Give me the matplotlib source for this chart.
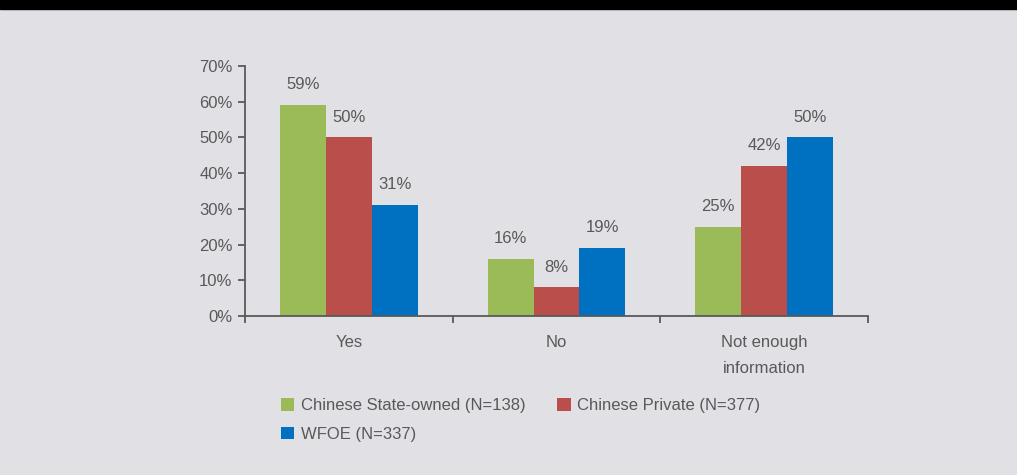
#!/usr/bin/env python3
"""Grouped bar chart: ownership type vs. answer."""

import numpy as np
import matplotlib
matplotlib.use('Agg')
import matplotlib.pyplot as plt
from matplotlib.patches import Rectangle
from matplotlib.ticker import FuncFormatter, FixedLocator

CATEGORIES = ['Yes', 'No', 'Not enough\ninformation']
STATE_OWNED = [59, 16, 25]
PRIVATE = [50, 8, 42]
WFOE = [31, 19, 50]
SERIES_NAMES = ['Chinese State-owned (N=138)', 'Chinese Private (N=377)',
                'WFOE (N=337)']
COLORS = ['#9BBB59', '#B94E4B', '#0070C0']

BG = '#E1E0E5'
TXT = '#595959'
plt.rcParams['font.family'] = ['Liberation Sans Narrow', 'Liberation Sans',
                               'DejaVu Sans']
plt.rcParams['font.size'] = 12

fig = plt.figure(figsize=(10.17, 4.75), dpi=100, facecolor=BG)
fig.patches.append(Rectangle((0, 1 - 9 / 475), 1, 9 / 475,
                             transform=fig.transFigure, color='black',
                             zorder=0))
ax = fig.add_axes([245 / 1017, 159 / 475, 623 / 1017, 250 / 475])
ax.set_facecolor(BG)

x = np.arange(len(CATEGORIES))
width = 0.221
handles = []
for i, (vals, color, name) in enumerate(zip([STATE_OWNED, PRIVATE, WFOE],
                                            COLORS, SERIES_NAMES)):
    pos = x + (i - 1) * width
    bars = ax.bar(pos, vals, width, color=color, label=name)
    handles.append(bars)
    for px, v in zip(pos, vals):
        ax.text(px, v + 3.6, f'{v}%', ha='center', va='bottom', color=TXT,
                fontsize=12)

ax.set_xlim(-0.5, len(CATEGORIES) - 0.5)
ax.set_ylim(0, 70)
ax.set_yticks(np.arange(0, 71, 10))
ax.yaxis.set_major_formatter(FuncFormatter(lambda v, _: f'{int(v)}%'))
ax.set_xticks(x)
ax.set_xticklabels(CATEGORIES, linespacing=1.9)
ax.xaxis.set_minor_locator(FixedLocator(np.arange(-0.5, len(CATEGORIES), 1)))
ax.tick_params(axis='x', which='major', length=0, pad=14, colors=TXT,
               labelsize=12)
ax.tick_params(axis='x', which='minor', length=5, width=1.3, color=TXT)
ax.tick_params(axis='y', length=5, width=1.3, color=TXT, labelcolor=TXT,
               labelsize=12, pad=4)
for side in ['top', 'right']:
    ax.spines[side].set_visible(False)
for side in ['left', 'bottom']:
    ax.spines[side].set_color(TXT)
    ax.spines[side].set_linewidth(1.3)

# legend fills column-wise, so reorder to get row-wise layout
order = [0, 2, 1]
fig.legend(handles=[handles[k] for k in order],
           labels=[SERIES_NAMES[k] for k in order], ncol=2, frameon=False,
           loc='upper left', bbox_to_anchor=(266 / 1017, 1 - 383 / 475),
           handlelength=0.8, handleheight=0.8, handletextpad=0.4,
           columnspacing=1.9, labelspacing=0.8, fontsize=12,
           labelcolor=TXT)

fig.savefig('out.png', dpi=100, facecolor=BG)
